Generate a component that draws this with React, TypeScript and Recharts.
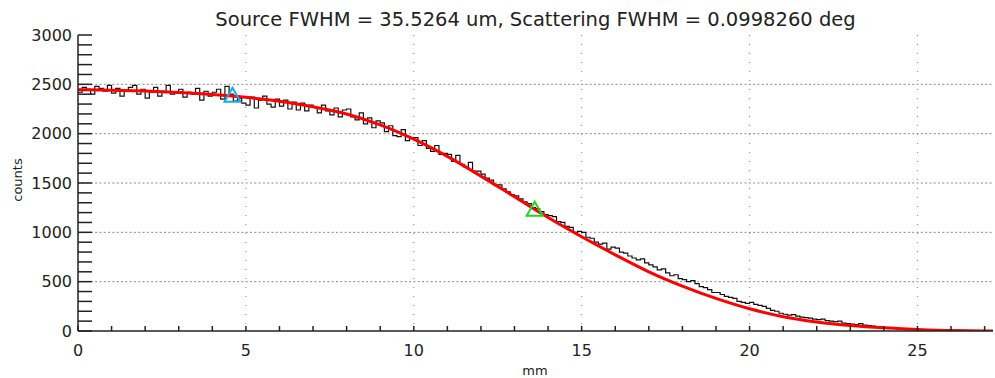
import { CartesianGrid, ComposedChart, Line, Scatter, XAxis, YAxis } from "recharts";

// fitted profile, sampled every mm
const FIT_X = [0, 1, 2, 3, 4, 5, 6, 7, 8, 9, 10, 11, 12, 13, 14, 15, 16, 17, 18, 19, 20, 21, 22, 23, 24, 25, 26, 27, 27.25];
const FIT_COUNTS = [
  2445, 2441, 2432, 2418, 2398, 2368, 2328, 2272, 2200, 2090, 1945, 1770, 1570, 1360, 1150, 955, 772, 600, 455, 330,
  225, 145, 92, 56, 32, 16, 4, 0, 0,
];

// measured histogram, 0.125 mm bins starting at 0 (one row per mm)
const BIN_WIDTH = 0.125;
const HIST_COUNTS = [
  2420, 2470, 2450, 2400, 2480, 2460, 2430, 2490,
  2410, 2460, 2380, 2440, 2470, 2490, 2400, 2450,
  2360, 2420, 2470, 2380, 2430, 2490, 2400, 2410,
  2450, 2370, 2420, 2400, 2460, 2340, 2430, 2380,
  2420, 2450, 2350, 2480, 2400, 2330, 2360, 2310,
  2290, 2370, 2260, 2340, 2380, 2300, 2270, 2350,
  2280, 2340, 2250, 2320, 2240, 2310, 2230, 2290,
  2270, 2210, 2290, 2230, 2190, 2260, 2170, 2240,
  2250, 2170, 2140, 2210, 2100, 2160, 2060, 2130,
  2110, 2020, 2080, 1980, 1970, 2040, 1930, 1960,
  1960, 1880, 1930, 1850, 1820, 1880, 1790, 1800,
  1790, 1720, 1780, 1690, 1660, 1710, 1620, 1620,
  1590, 1550, 1530, 1480, 1480, 1440, 1410, 1380,
  1370, 1340, 1310, 1290, 1250, 1240, 1210, 1180,
  1170, 1160, 1110, 1100, 1060, 1050, 1000, 1010,
  1000, 950, 940, 900, 880, 890, 830, 850,
  840, 800, 790, 760, 740, 720, 730, 690,
  670, 650, 620, 630, 590, 560, 570, 530,
  520, 500, 510, 480, 450, 440, 420, 390,
  390, 370, 350, 340, 330, 300, 290, 280,
  290, 270, 260, 250, 230, 210, 200, 180,
  170, 160, 165, 150, 140, 135, 130, 120,
  115, 120, 105, 100, 95, 100, 80, 75,
  70, 65, 75, 60, 55, 50, 45, 40,
  35, 30, 35, 25, 20,
];

const SOURCE_MARK = [{ x: 4.6, y: 2385 }];
const SCATTER_MARK = [{ x: 13.6, y: 1230 }];

const X_TICKS = [0, 1, 2, 3, 4, 5, 6, 7, 8, 9, 10, 11, 12, 13, 14, 15, 16, 17, 18, 19, 20, 21, 22, 23, 24, 25, 26, 27];
const X_GRID = [5, 10, 15, 20, 25];
const Y_TICKS = [
  0, 100, 200, 300, 400, 500, 600, 700, 800, 900, 1000, 1100, 1200, 1300, 1400, 1500, 1600, 1700, 1800, 1900, 2000,
  2100, 2200, 2300, 2400, 2500, 2600, 2700, 2800, 2900, 3000,
];
const Y_GRID = [500, 1000, 1500, 2000, 2500];

const TITLE = "Source FWHM = 35.5264 um, Scattering FWHM = 0.0998260 deg";
const FONT = "'DejaVu Sans', sans-serif";
const INK = "#222";

const fitData = FIT_X.map((x, i) => ({ x, y: FIT_COUNTS[i] }));
const histData = HIST_COUNTS.map((y, i) => ({ x: i * BIN_WIDTH, y }));

function triangle(color: string) {
  return (props: any) => {
    const { cx, cy } = props;
    return (
      <polygon
        points={`${cx},${cy - 8} ${cx - 8},${cy + 6} ${cx + 8},${cy + 6}`}
        fill="none"
        stroke={color}
        strokeWidth={2}
      />
    );
  };
}

export default function App() {
  const tick = { fill: INK, fontSize: 16, fontFamily: FONT };
  const line = { stroke: INK, strokeWidth: 1.5 };

  return (
    <div style={{ position: "absolute", left: 0, top: 0, width: 995, height: 378, fontFamily: FONT, color: INK }}>
      <div style={{ position: "absolute", left: 0, width: 1071, top: 10, textAlign: "center", fontSize: 19.5, lineHeight: "20px" }}>
        {TITLE}
      </div>
      <div
        style={{
          position: "absolute",
          left: 17,
          top: 180,
          fontSize: 13,
          transform: "translate(-50%, -50%) rotate(-90deg)",
          whiteSpace: "nowrap",
        }}
      >
        counts
      </div>
      <div style={{ position: "absolute", left: 535, top: 370, fontSize: 13, transform: "translate(-50%, -50%)" }}>mm</div>

      <ComposedChart width={995} height={378} margin={{ top: 35, right: 2, bottom: 17, left: 18 }}>
        <CartesianGrid
          xAxisId="b"
          yAxisId="l"
          vertical={false}
          horizontalValues={Y_GRID}
          stroke="#888"
          strokeDasharray="2 2.3"
        />
        <CartesianGrid
          xAxisId="b"
          yAxisId="l"
          horizontal={false}
          verticalValues={X_GRID}
          stroke="#888"
          strokeDasharray="1 8"
        />
        <XAxis
          xAxisId="b"
          dataKey="x"
          type="number"
          domain={[0, 27.25]}
          ticks={X_TICKS}
          interval={0}
          tickFormatter={(v: number) => (v % 5 === 0 ? String(v) : "")}
          tick={tick}
          tickSize={-5}
          tickMargin={19}
          tickLine={line}
          axisLine={line}
          height={30}
          allowDataOverflow
        />
        <XAxis
          xAxisId="t"
          orientation="top"
          type="number"
          domain={[0, 27.25]}
          ticks={X_TICKS}
          interval={0}
          tick={false}
          tickSize={-5}
          tickLine={line}
          axisLine={line}
          height={0}
          allowDataOverflow
        />
        <YAxis
          yAxisId="l"
          type="number"
          domain={[0, 3000]}
          ticks={Y_TICKS}
          interval={0}
          tickFormatter={(v: number) => (v % 500 === 0 ? String(v) : "")}
          tick={tick}
          tickSize={-14}
          tickMargin={20}
          tickLine={line}
          axisLine={line}
          width={60}
          allowDataOverflow
        />
        <YAxis
          yAxisId="r"
          orientation="right"
          type="number"
          domain={[0, 3000]}
          ticks={Y_TICKS}
          interval={0}
          tick={false}
          tickSize={-14}
          tickLine={line}
          axisLine={line}
          width={0}
          allowDataOverflow
        />
        <Line
          xAxisId="b"
          yAxisId="l"
          data={histData}
          dataKey="y"
          type="stepAfter"
          stroke="#111"
          strokeWidth={1.2}
          dot={false}
          activeDot={false}
          isAnimationActive={false}
        />
        <Line
          xAxisId="b"
          yAxisId="l"
          data={fitData}
          dataKey="y"
          type="monotone"
          stroke="#ff0000"
          strokeWidth={3}
          dot={false}
          activeDot={false}
          isAnimationActive={false}
        />
        <Scatter
          xAxisId="b"
          yAxisId="l"
          data={SOURCE_MARK}
          dataKey="y"
          shape={triangle("#19a9e8")}
          isAnimationActive={false}
        />
        <Scatter
          xAxisId="b"
          yAxisId="l"
          data={SCATTER_MARK}
          dataKey="y"
          shape={triangle("#1ed81e")}
          isAnimationActive={false}
        />
      </ComposedChart>
    </div>
  );
}
